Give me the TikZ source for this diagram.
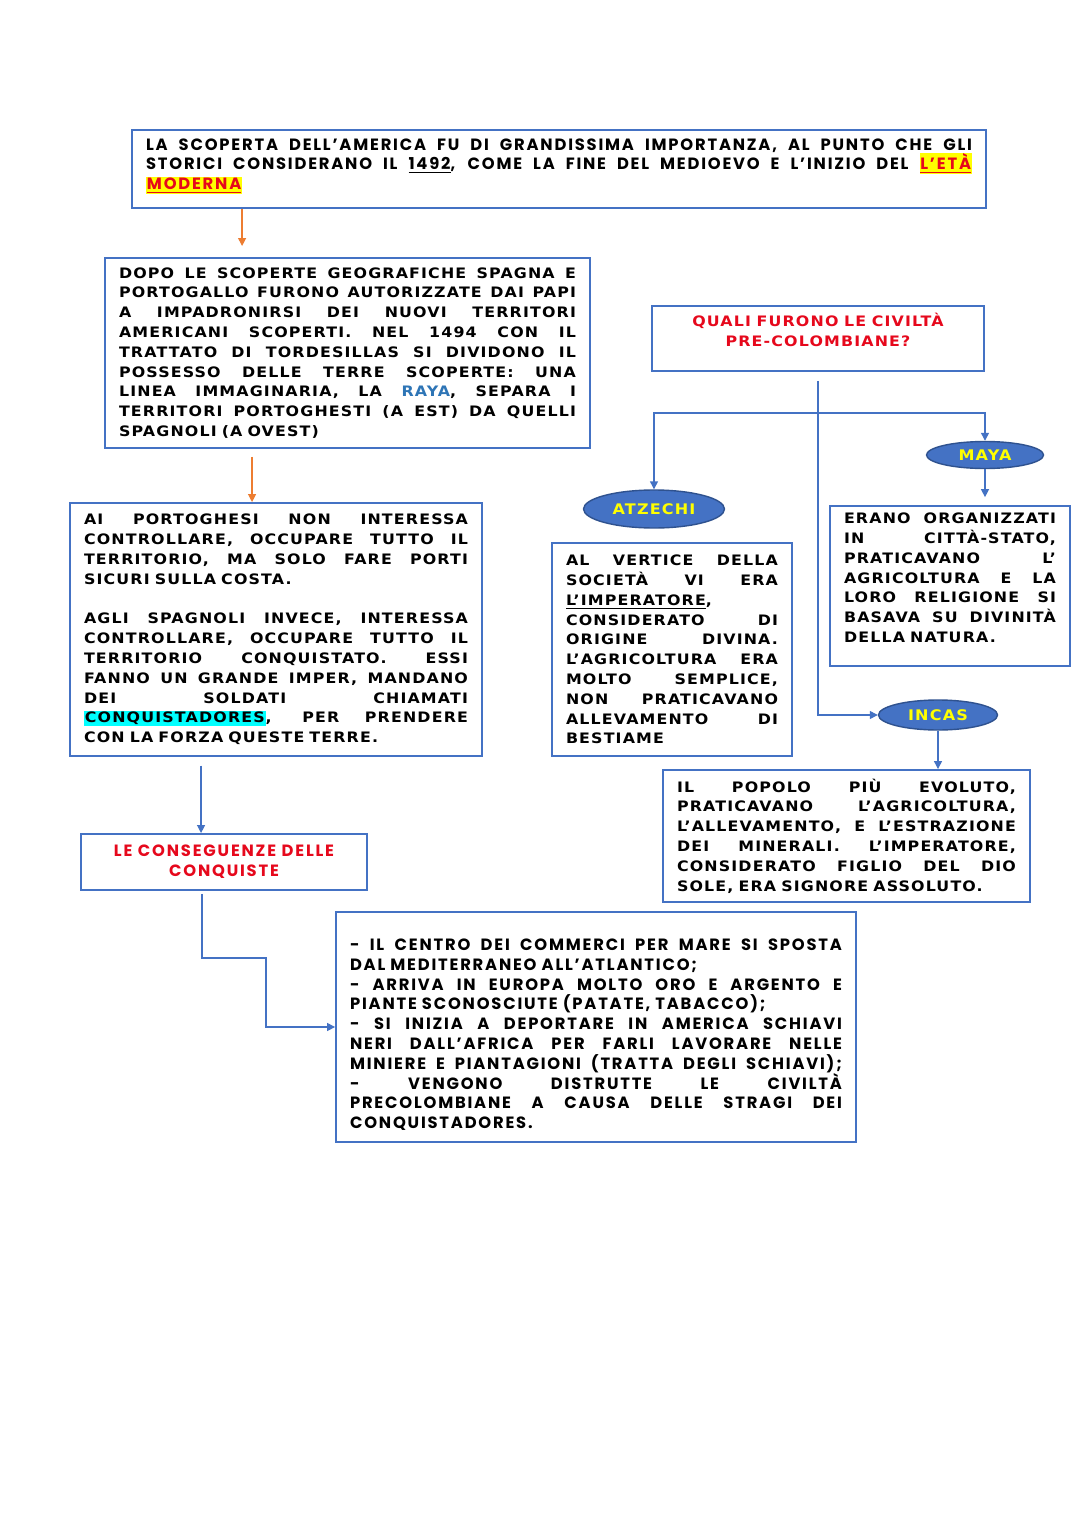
\documentclass[tikz,border=0pt]{standalone}
\usepackage{fontspec}
\usepackage{xcolor}
\usepackage{tikz}
\usetikzlibrary{arrows.meta,positioning,shapes.geometric}

\newfontfamily\copperfont[FakeStretch=1.1,LetterSpace=8]{DejaVu Sans}
\newfontfamily\berlinfont[LetterSpace=11]{Poppins}

\definecolor{boxblue}{HTML}{4472C4}
\definecolor{ovaledge}{HTML}{2F528F}
\definecolor{arrorange}{HTML}{ED7D31}
\definecolor{titlered}{HTML}{E6081C}
\definecolor{rayablue}{HTML}{2E75B6}
\definecolor{hlyellow}{HTML}{FFFF00}
\definecolor{hlcyan}{HTML}{00FFFF}

\newlength{\jlwidth}
\newcommand{\wordgap}{\spaceskip=2.9pt plus 20pt minus 0.4pt\relax}
\newcommand{\fixedgap}{\spaceskip=3.2pt\relax}
\newcommand{\jl}[1]{\makebox[\jlwidth][s]{#1}\\}
\newcommand{\hlred}[1]{{\setlength{\fboxsep}{0.5pt}\colorbox{hlyellow}{\textcolor{titlered}{\underline{#1}}}}}
\newcommand{\hlcyan}[1]{{\setlength{\fboxsep}{0.5pt}\colorbox{hlcyan}{#1}}}

\begin{document}
\begin{tikzpicture}[
    x=0.02cm, y=-0.02cm,
    txtbox/.style={rectangle, draw=boxblue, line width=1.1pt, inner xsep=0.28cm, inner ysep=0pt, align=left, text=black, execute at begin node={\wordgap}},
    titlebox/.style={txtbox, text=titlered, align=center, execute at begin node={\fixedgap}},
    textw/.style={text width=#1, execute at begin node={\setlength{\jlwidth}{#1}}},
    cptext/.style={font=\copperfont\bfseries\fontsize{8.2}{11.27}\selectfont},
    bstext/.style={font=\berlinfont\bfseries\fontsize{9.3}{11.27}\selectfont},
    oval/.style={ellipse, fill=boxblue, draw=ovaledge, line width=0.8pt, inner sep=0pt, text=hlyellow, font=\copperfont\bfseries\fontsize{8.3}{10}\selectfont},
    bluearr/.style={draw=boxblue, line width=0.7pt, -{Triangle[length=4.5pt,width=4.5pt]}},
    orangearr/.style={draw=arrorange, line width=0.7pt, -{Triangle[length=4.5pt,width=4.5pt]}}
  ]
    \fill[white] (0,0) rectangle (1080,1527);
    \useasboundingbox (0,0) rectangle (1080,1527);

    \node[txtbox, bstext, minimum width=17.08cm, minimum height=1.56cm, textw=16.52cm] (scoperta) at (559,169) {%
      \jl{LA SCOPERTA DELL’AMERICA FU DI GRANDISSIMA IMPORTANZA, AL PUNTO CHE GLI}
      \jl{STORICI CONSIDERANO IL \underline{1492}, COME LA FINE DEL MEDIOEVO E L’INIZIO DEL \hlred{L’ETÀ}}
      \hlred{MODERNA}\rule[-5.5pt]{0pt}{5.5pt}};

    \node[txtbox, cptext, minimum width=9.7cm, minimum height=3.8cm, textw=9.14cm] (dopo) at (347.5,353) {%
      \jl{DOPO LE SCOPERTE GEOGRAFICHE SPAGNA E}
      \jl{PORTOGALLO FURONO AUTORIZZATE DAI PAPI}
      \jl{A IMPADRONIRSI DEI NUOVI TERRITORI}
      \jl{AMERICANI SCOPERTI. NEL 1494 CON IL}
      \jl{TRATTATO DI TORDESILLAS SI DIVIDONO IL}
      \jl{POSSESSO DELLE TERRE SCOPERTE: UNA}
      \jl{LINEA IMMAGINARIA, LA \textcolor{rayablue}{RAYA}, SEPARA I}
      \jl{TERRITORI PORTOGHESTI (A EST) DA QUELLI}
      SPAGNOLI (A OVEST)};

    \node[txtbox, cptext, minimum width=8.24cm, minimum height=5.06cm, textw=7.68cm] (portoghesi) at (276,629.5) {%
      \jl{AI PORTOGHESI NON INTERESSA}
      \jl{CONTROLLARE, OCCUPARE TUTTO IL}
      \jl{TERRITORIO, MA SOLO FARE PORTI}
      SICURI SULLA COSTA.\\
      \mbox{}\\
      \jl{AGLI SPAGNOLI INVECE, INTERESSA}
      \jl{CONTROLLARE, OCCUPARE TUTTO IL}
      \jl{TERRITORIO CONQUISTATO. ESSI}
      \jl{FANNO UN GRANDE IMPER, MANDANO}
      \jl{DEI SOLDATI CHIAMATI}
      \jl{\hlcyan{CONQUISTADORES}, PER PRENDERE}
      CON LA FORZA QUESTE TERRE.};

    \node[titlebox, bstext, minimum width=5.72cm, minimum height=1.12cm, textw=5.16cm] (conseguenze) at (224,862) {LE CONSEGUENZE DELLE\\CONQUISTE};

    \node[txtbox, bstext, minimum width=10.4cm, minimum height=4.6cm, textw=9.84cm] (effetti) at (596,1027) {%
      \jl{\rule{0pt}{15.5pt}- IL CENTRO DEI COMMERCI PER MARE SI SPOSTA}
      DAL MEDITERRANEO ALL’ATLANTICO;\\
      \jl{- ARRIVA IN EUROPA MOLTO ORO E ARGENTO E}
      PIANTE SCONOSCIUTE (PATATE, TABACCO);\\
      \jl{- SI INIZIA A DEPORTARE IN AMERICA SCHIAVI}
      \jl{NERI DALL’AFRICA PER FARLI LAVORARE NELLE}
      \jl{MINIERE E PIANTAGIONI (TRATTA DEGLI SCHIAVI);}
      \jl{- VENGONO DISTRUTTE LE CIVILTÀ}
      \jl{PRECOLOMBIANE A CAUSA DELLE STRAGI DEI}
      CONQUISTADORES.};

    \node[titlebox, cptext, minimum width=6.64cm, minimum height=1.3cm, textw=6.08cm] (quali) at (818,338.5) {QUALI FURONO LE CIVILTÀ\\PRE-COLOMBIANE?\rule[-10pt]{0pt}{10pt}};

    \node[oval, minimum width=2.82cm, minimum height=0.76cm] (atzechi) at (654,509) {ATZECHI};
    \node[oval, minimum width=2.34cm, minimum height=0.54cm] (maya) at (985,455) {MAYA};
    \node[oval, minimum width=2.38cm, minimum height=0.6cm] (incas) at (938,715) {INCAS};

    \node[txtbox, cptext, minimum width=4.8cm, minimum height=4.26cm, textw=4.24cm] (atzechibox) at (672,649.5) {%
      \jl{AL VERTICE DELLA}
      \jl{SOCIETÀ VI ERA}
      \underline{L’IMPERATORE},\\
      \jl{CONSIDERATO DI}
      \jl{ORIGINE DIVINA.}
      \jl{L’AGRICOLTURA ERA}
      \jl{MOLTO SEMPLICE,}
      \jl{NON PRATICAVANO}
      \jl{ALLEVAMENTO DI}
      BESTIAME};

    \node[txtbox, cptext, minimum width=4.8cm, minimum height=3.2cm, textw=4.24cm] (mayabox) at (950,586) {%
      \jl{ERANO ORGANIZZATI}
      \jl{IN CITTÀ-STATO,}
      \jl{PRATICAVANO L’}
      \jl{AGRICOLTURA E LA}
      \jl{LORO RELIGIONE SI}
      \jl{BASAVA SU DIVINITÀ}
      DELLA NATURA.\rule[-9.5pt]{0pt}{9.5pt}};

    \node[txtbox, cptext, minimum width=7.34cm, minimum height=2.64cm, textw=6.78cm] (incasbox) at (846.5,836) {%
      \jl{IL POPOLO PIÙ EVOLUTO,}
      \jl{PRATICAVANO L’AGRICOLTURA,}
      \jl{L’ALLEVAMENTO, E L’ESTRAZIONE}
      \jl{DEI MINERALI. L’IMPERATORE,}
      \jl{CONSIDERATO FIGLIO DEL DIO}
      SOLE, ERA SIGNORE ASSOLUTO.};

    \draw[orangearr, shorten >=6.3pt] ([xshift=2.22cm]scoperta.south west) -- ([xshift=2.22cm]scoperta.south west |- dopo.north);
    \draw[orangearr, shorten <=4.5pt] ([xshift=2.96cm]dopo.south west) -- ([xshift=2.96cm]dopo.south west |- portoghesi.north);
    \draw[bluearr, shorten <=5pt] ([xshift=2.64cm]portoghesi.south west) -- ([xshift=2.64cm]portoghesi.south west |- conseguenze.north);
    \draw[bluearr] ([xshift=-0.44cm,yshift=-0.06cm]conseguenze.south) -- ++(0,64) -| ([xshift=-1.38cm]effetti.west) -- (effetti.west);

    \draw[bluearr] ([yshift=-0.18cm]quali.south) -- ++(0,32) coordinate (split) -| (atzechi.north);
    \draw[bluearr] (split) -| (maya.north);
    \draw[bluearr] (split) |- (incas.west);
    \draw[bluearr, shorten >=4.5pt] (maya.south) -- (maya.south |- mayabox.north);
    \draw[bluearr] (incas.south) -- (incas.south |- incasbox.north);
  \end{tikzpicture}
\end{document}
